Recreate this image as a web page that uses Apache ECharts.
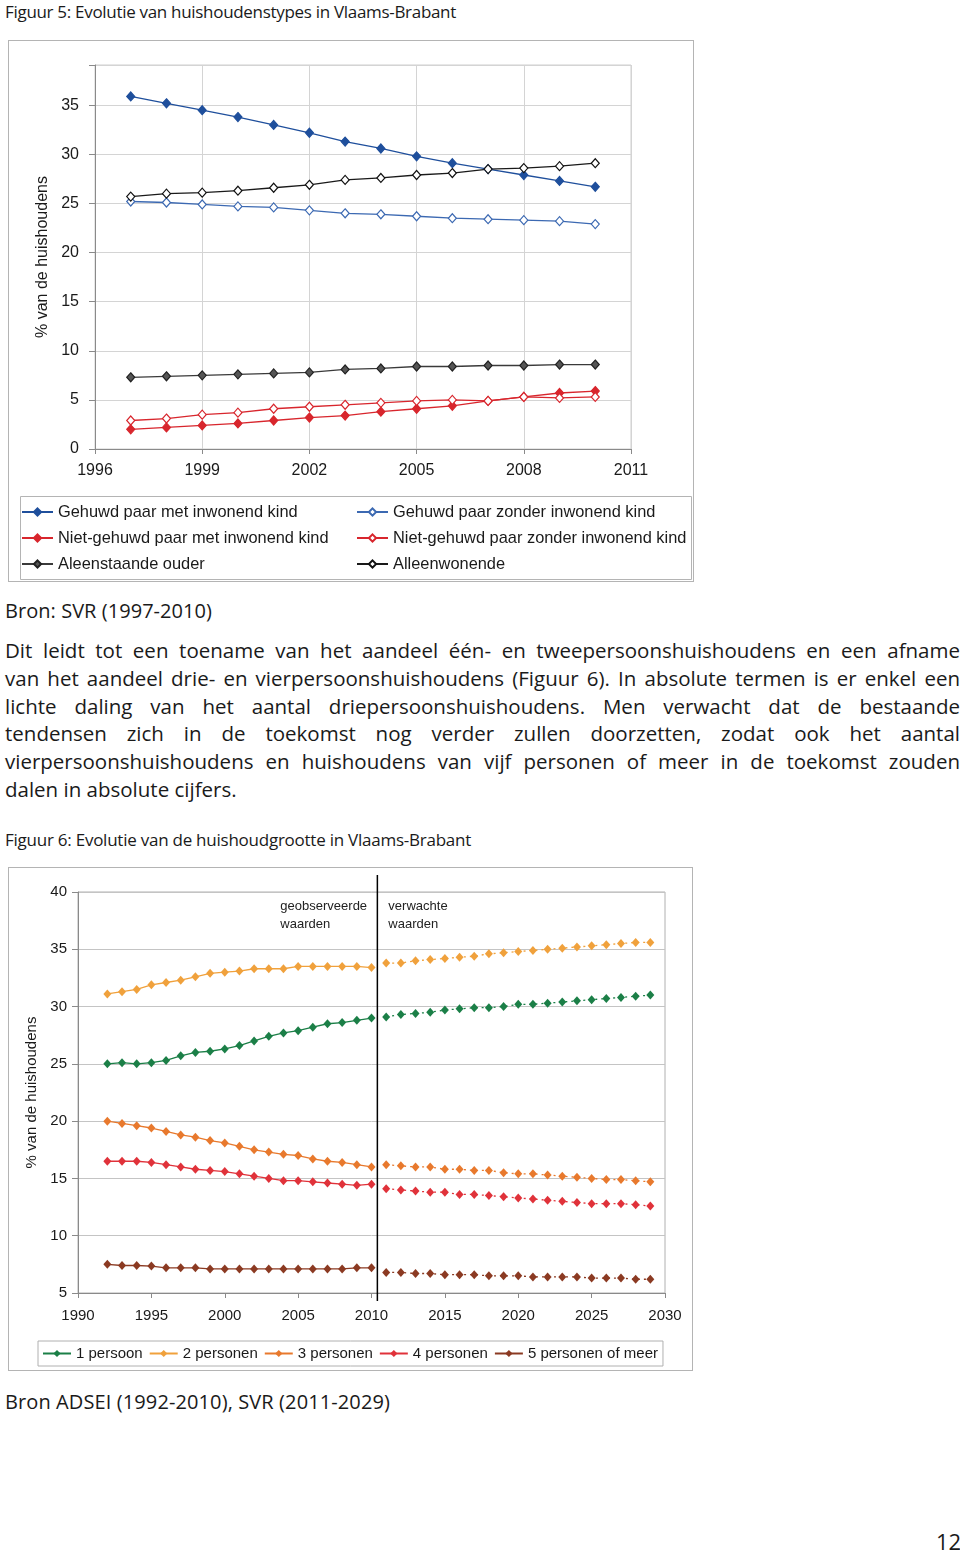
<!DOCTYPE html>
<html>
<head>
<meta charset="utf-8">
<script src="https://cdn.jsdelivr.net/npm/echarts@6/dist/echarts.min.js"></script>
<style>
  html, body { margin:0; padding:0; background:#fff; }
  body { width:960px; height:1551px; position:relative; overflow:hidden; font-family:"Open Sans", sans-serif; color:#1a1a1a; }
  .t { position:absolute; white-space:nowrap; }
  .box { position:absolute; border:1px solid #b4b4b4; box-sizing:border-box; }
</style>
</head>
<body>
<div class="t" id="title1" style="left:5px;top:0px;font-size:17px;line-height:24px;">Figuur 5: Evolutie van huishoudenstypes in Vlaams-Brabant</div>
<div class="box" id="c1" style="left:8px;top:40px;width:686px;height:542px;"></div>
<div class="t" id="src1" style="left:5px;top:597px;font-size:20px;line-height:28px;">Bron: SVR (1997-2010)</div>
<div id="para"></div>
<div class="t" id="title2" style="left:5px;top:828px;font-size:17px;line-height:24px;">Figuur 6: Evolutie van de huishoudgrootte in Vlaams-Brabant</div>
<div class="box" id="c2" style="left:8px;top:867px;width:685px;height:504px;"></div>
<div class="t" id="src2" style="left:5px;top:1388px;font-size:20px;line-height:28px;">Bron ADSEI (1992-2010), SVR (2011-2029)</div>
<div class="t" id="pnum" style="left:936px;top:1527px;font-size:22px;line-height:28px;">12</div>
<script>
// ---------------- DATA ----------------
const years1 = [1997,1998,1999,2000,2001,2002,2003,2004,2005,2006,2007,2008,2009,2010];
const gehuwdMet        = [35.9,35.2,34.5,33.8,33.0,32.2,31.3,30.6,29.8,29.1,28.5,27.9,27.3,26.7];
const gehuwdZonder     = [25.2,25.1,24.9,24.7,24.6,24.3,24.0,23.9,23.7,23.5,23.4,23.3,23.2,22.9];
const nietGehuwdMet    = [2.0,2.2,2.4,2.6,2.9,3.2,3.4,3.8,4.1,4.4,4.9,5.3,5.7,5.9];
const nietGehuwdZonder = [2.9,3.1,3.5,3.7,4.1,4.3,4.5,4.7,4.9,5.0,4.9,5.3,5.2,5.3];
const aleenstaandeOuder= [7.3,7.4,7.5,7.6,7.7,7.8,8.1,8.2,8.4,8.4,8.5,8.5,8.6,8.6];
const alleenwonende    = [25.7,26.0,26.1,26.3,26.6,26.9,27.4,27.6,27.9,28.1,28.5,28.6,28.8,29.1];
const names1 = ['Gehuwd paar met inwonend kind','Gehuwd paar zonder inwonend kind','Niet-gehuwd paar met inwonend kind','Niet-gehuwd paar zonder inwonend kind','Aleenstaande ouder','Alleenwonende'];

const yearsObs  = [1992,1993,1994,1995,1996,1997,1998,1999,2000,2001,2002,2003,2004,2005,2006,2007,2008,2009,2010];
const yearsProj = [2011,2012,2013,2014,2015,2016,2017,2018,2019,2020,2021,2022,2023,2024,2025,2026,2027,2028,2029];
const p1Obs  = [25.0,25.1,25.0,25.1,25.3,25.7,26.0,26.1,26.3,26.6,27.0,27.4,27.7,27.9,28.2,28.5,28.6,28.8,29.0];
const p1Proj = [29.1,29.3,29.4,29.5,29.7,29.8,29.9,29.9,30.0,30.2,30.2,30.3,30.4,30.5,30.6,30.7,30.8,30.9,31.0];
const p2Obs  = [31.1,31.3,31.5,31.9,32.1,32.3,32.6,32.9,33.0,33.1,33.3,33.3,33.3,33.5,33.5,33.5,33.5,33.5,33.4];
const p2Proj = [33.8,33.8,34.0,34.1,34.2,34.3,34.4,34.6,34.7,34.8,34.9,35.0,35.1,35.2,35.3,35.4,35.5,35.6,35.6];
const p3Obs  = [20.0,19.8,19.6,19.4,19.1,18.8,18.6,18.3,18.1,17.8,17.5,17.3,17.1,17.0,16.7,16.5,16.4,16.2,16.0];
const p3Proj = [16.2,16.1,16.0,16.0,15.8,15.8,15.7,15.7,15.5,15.4,15.4,15.3,15.2,15.1,15.0,14.9,14.9,14.8,14.7];
const p4Obs  = [16.5,16.5,16.5,16.4,16.2,16.0,15.8,15.7,15.6,15.4,15.2,15.0,14.8,14.8,14.7,14.6,14.5,14.4,14.5];
const p4Proj = [14.1,14.0,13.9,13.8,13.8,13.6,13.6,13.5,13.4,13.3,13.2,13.1,13.0,12.9,12.8,12.8,12.8,12.7,12.6];
const p5Obs  = [7.5,7.4,7.4,7.35,7.2,7.2,7.2,7.1,7.1,7.1,7.1,7.1,7.1,7.1,7.1,7.1,7.1,7.2,7.2];
const p5Proj = [6.8,6.8,6.7,6.7,6.6,6.6,6.6,6.5,6.5,6.5,6.4,6.4,6.4,6.4,6.3,6.3,6.3,6.2,6.2];
const names2 = ['1 persoon','2 personen','3 personen','4 personen','5 personen of meer'];
const DIVIDER_YEAR = 2010.4;
const noteObserved = 'geobserveerde\nwaarden';
const noteExpected = 'verwachte\nwaarden';

const paragraphLines = [
  'Dit leidt tot een toename van het aandeel één- en tweepersoonshuishoudens en een afname',
  'van het aandeel drie- en vierpersoonshuishoudens (Figuur 6). In absolute termen is er enkel een',
  'lichte daling van het aantal driepersoonshuishoudens. Men verwacht dat de bestaande',
  'tendensen zich in de toekomst nog verder zullen doorzetten, zodat ook het aantal',
  'vierpersoonshuishoudens en huishoudens van vijf personen of meer in de toekomst zouden',
  'dalen in absolute cijfers.'
];

// ---------------- TEXT LAYOUT ----------------
const para = document.getElementById('para');
paragraphLines.forEach((ln, i) => {
  const d = document.createElement('div');
  d.className = 't';
  d.style.cssText = 'left:5px;top:' + (636 + i*27.8) + 'px;font-size:20.5px;line-height:28px;';
  d.textContent = ln;
  para.appendChild(d);
  if (i < paragraphLines.length - 1) {
    const target = 955;
    const w = d.getBoundingClientRect().width;
    const spaces = (ln.match(/ /g) || []).length;
    if (w <= target) {
      d.style.wordSpacing = ((target - w) / spaces) + 'px';
    } else {
      d.style.letterSpacing = ((target - w) / ln.length) + 'px';
    }
  }
});
function fitWidth(id, target) {
  const el = document.getElementById(id);
  const w = el.getBoundingClientRect().width;
  el.style.letterSpacing = ((target - w) / el.textContent.length) + 'px';
}
fitWidth('title1', 451);
fitWidth('title2', 466);
fitWidth('src1', 207);
fitWidth('src2', 385);

// ---------------- CHART 1 ----------------
const FONT = '"Liberation Sans", Arial, sans-serif';
const zip = (xs, ys) => xs.map((x, i) => [x, ys[i]]);
const blueDark = '#1f4f9c', blueLine = '#3c69b2', red = '#d8262d', grey = '#3a3a3a', black = '#1a1a1a';
function s1(name, data, lineColor, fill, stroke) {
  return {
    name, type:'line', data: zip(years1, data), symbol:'diamond', symbolSize:[8,9],
    lineStyle:{ color: lineColor, width:1.3 },
    itemStyle:{ color: fill, borderColor: stroke, borderWidth: 1.2 },
    emphasis:{ disabled:true }, animation:false
  };
}
const legendText1 = { fontSize:16.4, lineHeight:16, color:'#1a1a1a', fontFamily:FONT };
const chart1 = echarts.init(document.getElementById('c1'));
chart1.setOption({
  animation:false,
  textStyle:{ fontFamily: FONT },
  grid:{ left:86, top:24, width:536, height:384, show:true, borderColor:'#cfcfcf', borderWidth:1 },
  xAxis:{
    type:'value', min:1996, max:2011, interval:3,
    axisLine:{ show:true, lineStyle:{ color:'#8a8a8a' } },
    axisTick:{ show:true, inside:false, length:5, lineStyle:{ color:'#8a8a8a' } },
    axisLabel:{ color:'#1a1a1a', fontSize:16, margin:14, fontFamily:FONT, formatter: v => String(v) },
    splitLine:{ show:true, lineStyle:{ color:'#d4d4d4' } }
  },
  yAxis:{
    type:'value', min:0, max:39.1, interval:5,
    name:'% van de huishoudens', nameLocation:'middle', nameGap:43, nameRotate:90,
    nameTextStyle:{ color:'#1a1a1a', fontSize:16, fontFamily:FONT },
    axisLine:{ show:true, lineStyle:{ color:'#8a8a8a' } },
    axisTick:{ show:true, length:6, lineStyle:{ color:'#8a8a8a' } },
    axisLabel:{ color:'#1a1a1a', fontSize:16, margin:16, fontFamily:FONT,
      formatter: v => (Math.abs(v % 5) < 1e-9 ? String(v) : '') },
    splitLine:{ show:true, lineStyle:{ color:'#d4d4d4' } }
  },
  legend:[
    { orient:'vertical', left:12, top:463, height:80, padding:0, itemWidth:31, itemHeight:9, itemGap:10,
      textStyle: legendText1, data:[names1[0], names1[2], names1[4]], selectedMode:false },
    { orient:'vertical', left:347, top:463, height:80, padding:0, itemWidth:31, itemHeight:9, itemGap:10,
      textStyle: legendText1, data:[names1[1], names1[3], names1[5]], selectedMode:false }
  ],
  graphic:[
    { type:'rect', left:9, top:453, shape:{ width:671, height:83 }, style:{ fill:'none', stroke:'#b4b4b4', lineWidth:1 }, silent:true }
  ],
  series:[
    s1(names1[0], gehuwdMet, blueDark, blueDark, blueDark),
    s1(names1[1], gehuwdZonder, blueLine, '#ffffff', blueLine),
    s1(names1[2], nietGehuwdMet, red, red, red),
    s1(names1[3], nietGehuwdZonder, red, '#ffffff', red),
    s1(names1[4], aleenstaandeOuder, grey, '#555555', '#222222'),
    s1(names1[5], alleenwonende, black, '#ffffff', '#111111')
  ]
});

// ---------------- CHART 2 ----------------
const colors2 = ['#1b7f47', '#f0a13c', '#e8792d', '#e0323a', '#8b3a22'];
const obs = [p1Obs, p2Obs, p3Obs, p4Obs, p5Obs];
const proj = [p1Proj, p2Proj, p3Proj, p4Proj, p5Proj];
const series2 = [];
names2.forEach((n, i) => {
  series2.push({
    name:n, type:'line', data: zip(yearsObs, obs[i]), symbol:'diamond', symbolSize:[8,9],
    lineStyle:{ color: colors2[i], width:1.3 }, itemStyle:{ color: colors2[i] },
    emphasis:{ disabled:true }, animation:false
  });
});
names2.forEach((n, i) => {
  series2.push({
    name:n, type:'line', data: zip(yearsProj, proj[i]), symbol:'diamond', symbolSize:[8,9],
    lineStyle:{ color: colors2[i], width:1.3, type:[2,4] }, itemStyle:{ color: colors2[i] },
    emphasis:{ disabled:true }, animation:false
  });
});
const chart2 = echarts.init(document.getElementById('c2'));
chart2.setOption({
  animation:false,
  textStyle:{ fontFamily: FONT },
  grid:{ left:69, top:24, width:587, height:401, show:true, borderColor:'#b0b0b0', borderWidth:1 },
  xAxis:{
    type:'value', min:1990, max:2030, interval:5,
    axisLine:{ show:true, lineStyle:{ color:'#8a8a8a' } },
    axisTick:{ show:true, length:5, lineStyle:{ color:'#8a8a8a' } },
    axisLabel:{ color:'#1a1a1a', fontSize:15, margin:15, fontFamily:FONT, formatter: v => String(v) },
    splitLine:{ show:false }
  },
  yAxis:{
    type:'value', min:5, max:40, interval:5,
    name:'% van de huishoudens', nameLocation:'middle', nameGap:37, nameRotate:90,
    nameTextStyle:{ color:'#1a1a1a', fontSize:15, fontFamily:FONT },
    axisLine:{ show:true, lineStyle:{ color:'#8a8a8a' } },
    axisTick:{ show:true, length:6, lineStyle:{ color:'#8a8a8a' } },
    axisLabel:{ color:'#1a1a1a', fontSize:15, margin:11, fontFamily:FONT },
    splitLine:{ show:true, lineStyle:{ color:'#c4c4c4' } }
  },
  legend:{
    left:29, top:473, itemWidth:28, itemHeight:9, itemGap:6, padding:[5,5,5,4],
    borderColor:'#b0b0b0', borderWidth:1,
    textStyle:{ fontSize:15, color:'#1a1a1a', fontFamily:FONT },
    data: names2, selectedMode:false
  },
  series: series2
});
const pTop = chart2.convertToPixel({ gridIndex:0 }, [DIVIDER_YEAR, 40]);
const pBot = chart2.convertToPixel({ gridIndex:0 }, [DIVIDER_YEAR, 5]);
chart2.setOption({
  graphic:[
    { type:'line', shape:{ x1:pTop[0], y1:pTop[1]-17, x2:pTop[0], y2:pBot[1]+8 }, style:{ stroke:'#000', lineWidth:1.5 }, silent:true, z:100 },
    { type:'text', x:pTop[0]-97, y:pTop[1]+5, style:{ text:noteObserved, fontSize:13, lineHeight:18, fill:'#222', fontFamily:FONT }, silent:true },
    { type:'text', x:pTop[0]+11, y:pTop[1]+5, style:{ text:noteExpected, fontSize:13, lineHeight:18, fill:'#222', fontFamily:FONT }, silent:true }
  ]
});
</script>
</body>
</html>
